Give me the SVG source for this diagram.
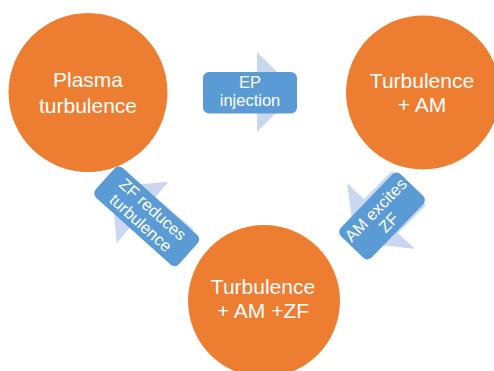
<svg xmlns="http://www.w3.org/2000/svg" width="494" height="371" viewBox="0 0 494 371">
<style>
.circ{fill:#ED7D31}
.box{fill:#5B9BD5}
.arr{fill:#C9D8EE}
.ct{font-family:"Liberation Sans",Arial,sans-serif;font-size:21px;fill:#FFFFFF;text-anchor:middle}
.bt{font-family:"Liberation Sans",Arial,sans-serif;font-size:16.5px;fill:#FFFFFF;text-anchor:middle}
</style>
<rect x="0" y="0" width="494" height="371" fill="#FFFFFF"/>
<g id="connectors">
  <g id="edge-ep">
    <polygon class="arr" points="203,76 257,76 257,52 297,92 257,132 257,108 203,108"/>
    <rect class="box" x="203" y="72" width="94" height="41.5" rx="6"/>
    <text class="bt" x="250" y="88">EP</text>
    <text class="bt" x="250" y="106">injection</text>
  </g>
  <g id="edge-am">
    <polygon class="arr" points="355,242 347,183 364,199 392,171 426,205 398,233 415,249"/>
    <g transform="translate(382,216) rotate(-46)">
      <rect class="box" x="-43" y="-21.5" width="86" height="43" rx="6"/>
      <text class="bt" x="0" y="-3">AM excites</text>
      <text class="bt" x="0" y="15">ZF</text>
    </g>
  </g>
  <g id="edge-zf">
    <polygon class="arr" points="111.7,186.7 168.3,181.7 155.3,197.2 193.6,229.3 168,259.9 129.7,227.8 116.7,243.3"/>
    <g transform="translate(146.7,216.3) rotate(42)">
      <rect class="box" x="-56" y="-20" width="112" height="40" rx="6"/>
      <text class="bt" x="0" y="-3.5">ZF reduces</text>
      <text class="bt" x="0" y="14.5">turbulence</text>
    </g>
  </g>
</g>
<g id="node-plasma">
  <circle class="circ" cx="88" cy="92.5" r="79.5"/>
  <text class="ct" x="88" y="87">Plasma</text>
  <text class="ct" x="88" y="112.5">turbulence</text>
</g>
<g id="node-am">
  <circle class="circ" cx="423" cy="92.5" r="77"/>
  <text class="ct" x="422" y="87.5">Turbulence</text>
  <text class="ct" x="422" y="111.5">+ AM</text>
</g>
<g id="node-zf">
  <circle class="circ" cx="264" cy="301" r="76"/>
  <text class="ct" x="263" y="294">Turbulence</text>
  <text class="ct" x="263" y="317.5">+ AM +ZF</text>
</g>
</svg>
